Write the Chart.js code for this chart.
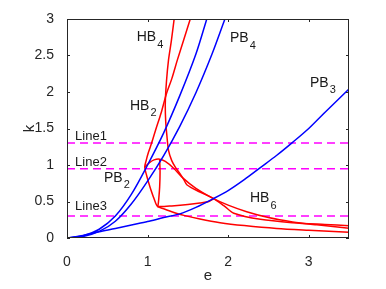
<!DOCTYPE html>
<html>
<head>
<meta charset="utf-8">
<script src="https://cdn.jsdelivr.net/npm/chart.js@4.4.0/dist/chart.umd.min.js"></script>
<style>
  html, body { margin: 0; padding: 0; background: #fff; }
  canvas { display: block; }
</style>
</head>
<body>
<canvas id="chart" width="386" height="289"></canvas>
<script>
// axis ticks
const xTicks = [0, 1, 2, 3];
const yTicks = [0, 0.5, 1, 1.5, 2, 2.5, 3];

// blue curves (PB)
const pb2E = [0, 0.2, 0.4, 0.6, 0.8, 1.0, 1.2, 1.4, 1.6, 1.735];
const pb2K = [0, 0.03, 0.12, 0.30, 0.60, 1.0, 1.44, 1.95, 2.52, 3.0];
const pb4E = [0, 0.2, 0.4, 0.6, 0.8, 1.0, 1.2, 1.4, 1.6, 1.8, 1.96];
const pb4K = [0, 0.02, 0.09, 0.23, 0.47, 0.78, 1.13, 1.53, 1.99, 2.52, 3.0];
const pb3E = [0, 0.2, 0.4, 0.6, 0.8, 1.0, 1.2, 1.4, 1.6, 1.8, 2.0, 2.2, 2.4, 2.6, 2.8, 3.0, 3.2, 3.5];
const pb3K = [0, 0.035, 0.085, 0.13, 0.178, 0.225, 0.28, 0.33, 0.42, 0.53, 0.65, 0.80, 0.965, 1.13, 1.31, 1.5, 1.72, 2.04];

// red curves (HB)
const hb2E = [1.53, 1.45, 1.37, 1.30, 1.235, 1.17, 1.10, 1.05, 1.01, 0.98, 0.965, 0.99, 1.03, 1.07, 1.10, 1.12, 1.16, 1.3, 1.5, 1.65, 1.76, 1.82];
const hb2K = [3.0, 2.72, 2.44, 2.18, 1.98, 1.72, 1.48, 1.3, 1.17, 1.05, 0.97, 0.85, 0.70, 0.57, 0.48, 0.44, 0.43, 0.44, 0.46, 0.48, 0.5, 0.54];
const hb4E = [1.33, 1.295, 1.26, 1.235, 1.22, 1.225, 1.24, 1.26, 1.30, 1.35, 1.40, 1.45, 1.49, 1.65, 1.82, 1.95, 2.07, 2.4, 2.8, 3.2, 3.5];
const hb4K = [3.0, 2.7, 2.44, 2.15, 1.85, 1.6, 1.4, 1.2, 1.06, 0.96, 0.886, 0.8, 0.726, 0.63, 0.54, 0.44, 0.34, 0.256, 0.21, 0.185, 0.169];
const humpE = [0.965, 1.02, 1.08, 1.15, 1.22, 1.32, 1.44, 1.6, 1.8, 2.0, 2.23, 2.5, 2.8, 3.1, 3.5];
const humpK = [0.97, 1.03, 1.07, 1.08, 1.05, 0.96, 0.82, 0.68, 0.55, 0.45, 0.36, 0.28, 0.22, 0.18, 0.133];
const innerE = [1.15, 1.155, 1.15, 1.14, 1.13, 1.12];
const innerK = [1.08, 0.9, 0.7, 0.55, 0.45, 0.43];
const hb6E = [1.12, 1.2, 1.3, 1.45, 1.65, 1.9, 2.2, 2.6, 3.0, 3.5];
const hb6K = [0.43, 0.40, 0.36, 0.31, 0.26, 0.21, 0.17, 0.13, 0.105, 0.078];

// dashed reference lines
const lineNames = ['Line1', 'Line2', 'Line3'];
const lineLevels = [1.3, 0.95, 0.3];

// curve labels
const curveNames = ['HB', 'HB', 'PB', 'PB', 'PB', 'HB'];
const curveSubs = ['4', '2', '4', '2', '3', '6'];
const curveLabelE = [0.865, 0.782, 2.023, 0.459, 3.016, 2.271];
const curveLabelK = [2.747, 1.808, 2.733, 0.822, 2.123, 0.541];
const lineLabelE = 0.1;
const lineLabelK = [1.397, 1.034, 0.438];

const FONT = "'Liberation Sans', Arial, Helvetica, sans-serif";
const AX = '#262626';

function pts(xs, ys) {
    return xs.map((x, i) => ({ x: x, y: ys[i] }));
}

function curve(xs, ys, color) {
    return {
        data: pts(xs, ys),
        showLine: true,
        borderColor: color,
        borderWidth: 1.5,
        pointRadius: 0,
        tension: 0.3,
        fill: false
    };
}

const datasets = [
    curve(pb3E, pb3K, '#0000FF'),
    curve(pb2E, pb2K, '#0000FF'),
    curve(pb4E, pb4K, '#0000FF'),
    curve(hb2E, hb2K, '#FF0000'),
    curve(hb4E, hb4K, '#FF0000'),
    curve(humpE, humpK, '#FF0000'),
    curve(innerE, innerK, '#FF0000'),
    curve(hb6E, hb6K, '#FF0000')
];
lineLevels.forEach(v => {
    datasets.push({
        data: [{ x: 0, y: v }, { x: 3.5, y: v }],
        showLine: true,
        borderColor: '#FF00FF',
        borderWidth: 1.5,
        borderDash: [8, 5],
        pointRadius: 0,
        fill: false
    });
});

// box + inward ticks like MATLAB
const boxPlugin = {
    id: 'box',
    afterDatasetsDraw(chart) {
        const { ctx, chartArea: a, scales } = chart;
        ctx.save();
        ctx.strokeStyle = AX;
        ctx.lineWidth = 1;
        ctx.strokeRect(a.left + 0.5, a.top + 0.5, a.right - a.left - 1, a.bottom - a.top - 1);
        ctx.beginPath();
        xTicks.forEach(v => {
            const px = Math.round(scales.x.getPixelForValue(v)) + 0.5;
            ctx.moveTo(px, a.bottom); ctx.lineTo(px, a.bottom - 3);
            ctx.moveTo(px, a.top); ctx.lineTo(px, a.top + 3);
        });
        yTicks.forEach(v => {
            const py = Math.round(scales.y.getPixelForValue(v)) + 0.5;
            ctx.moveTo(a.left, py); ctx.lineTo(a.left + 3, py);
            ctx.moveTo(a.right, py); ctx.lineTo(a.right - 3, py);
        });
        ctx.stroke();
        ctx.restore();
    }
};

// curve names with subscripts + line names
const labelPlugin = {
    id: 'labels',
    afterDraw(chart) {
        const { ctx, scales } = chart;
        ctx.save();
        ctx.fillStyle = '#1a1a1a';
        ctx.textBaseline = 'middle';
        ctx.textAlign = 'left';
        curveNames.forEach((name, i) => {
            const px = scales.x.getPixelForValue(curveLabelE[i]);
            const py = scales.y.getPixelForValue(curveLabelK[i]);
            ctx.font = '14px ' + FONT;
            ctx.fillText(name, px, py);
            const w = ctx.measureText(name).width;
            ctx.font = '11px ' + FONT;
            ctx.fillText(curveSubs[i], px + w + 1, py + 7);
        });
        ctx.font = '13px ' + FONT;
        lineNames.forEach((name, i) => {
            ctx.fillText(name, scales.x.getPixelForValue(lineLabelE), scales.y.getPixelForValue(lineLabelK[i]));
        });
        ctx.restore();
    }
};

new Chart(document.getElementById('chart'), {
    type: 'scatter',
    data: { datasets: datasets },
    options: {
        responsive: false,
        animation: false,
        layout: { padding: { top: 19, right: 37, left: 0, bottom: 0 } },
        plugins: { legend: { display: false }, tooltip: { enabled: false } },
        scales: {
            x: {
                type: 'linear',
                min: 0,
                max: 3.5,
                afterBuildTicks: s => { s.ticks = xTicks.map(v => ({ value: v })); },
                afterFit: s => { s.height = 51; },
                grid: { display: false },
                border: { display: false },
                ticks: { color: AX, font: { family: FONT, size: 14 }, padding: 8, maxRotation: 0, callback: v => String(v) },
                title: { display: true, text: 'e', color: AX, font: { family: FONT, size: 15 }, padding: { top: 0, bottom: 4 } }
            },
            y: {
                type: 'linear',
                min: 0,
                max: 3,
                afterBuildTicks: s => { s.ticks = yTicks.map(v => ({ value: v })); },
                afterFit: s => { s.width = 67; },
                grid: { display: false },
                border: { display: false },
                ticks: { color: AX, font: { family: FONT, size: 14 }, padding: 5, callback: v => String(v) },
                title: { display: true, text: 'k', color: AX, font: { family: FONT, size: 15 }, padding: { top: 21, bottom: 0 } }
            }
        }
    },
    plugins: [boxPlugin, labelPlugin]
});
</script>
</body>
</html>
